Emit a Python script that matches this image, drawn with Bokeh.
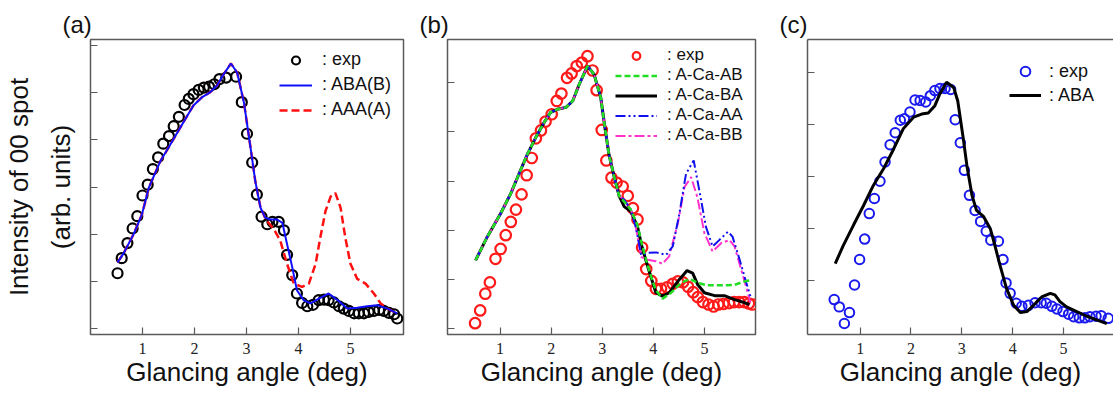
from bokeh.plotting import figure
from bokeh.layouts import row
from bokeh.models import Legend, LegendItem, FixedTicker, Range1d, LinearAxis
from bokeh.embed import file_html
from bokeh.resources import INLINE

# ---------------- data: panel (a) ----------------
a_exp_x = [0.52, 0.60, 0.71, 0.81, 0.90, 1.00, 1.10, 1.20, 1.30, 1.40, 1.51, 1.60, 1.70, 1.81,
           1.89, 1.98, 2.08, 2.18, 2.28, 2.38, 2.48, 2.61, 2.80, 2.91, 3.01, 3.11, 3.20, 3.29,
           3.40, 3.50, 3.62, 3.72, 3.78, 3.88, 3.97, 4.07, 4.17, 4.28, 4.39, 4.49, 4.58, 4.68,
           4.78, 4.87, 4.97, 5.07, 5.16, 5.26, 5.35, 5.45, 5.55, 5.64, 5.74, 5.84, 5.90]
a_exp_y = [1.17, 1.49, 1.81, 2.12, 2.38, 2.82, 3.05, 3.38, 3.63, 3.92, 4.08, 4.29, 4.49, 4.74,
           4.87, 4.97, 5.06, 5.11, 5.13, 5.18, 5.29, 5.32, 5.34, 4.80, 4.13, 3.52, 2.84, 2.37,
           2.21, 2.26, 2.26, 2.08, 1.56, 1.13, 0.74, 0.54, 0.47, 0.50, 0.60, 0.61, 0.60, 0.55,
           0.47, 0.42, 0.37, 0.32, 0.32, 0.32, 0.35, 0.37, 0.39, 0.37, 0.33, 0.30, 0.21]
a_aba_x = [0.52, 0.63, 0.83, 0.99, 1.12, 1.34, 1.53, 1.79, 1.98, 2.14, 2.30, 2.43, 2.56, 2.70,
           2.82, 2.95, 3.08, 3.17, 3.27, 3.36, 3.46, 3.59, 3.69, 3.78, 3.88, 3.97, 4.10, 4.23,
           4.39, 4.58, 4.75, 4.94, 5.13, 5.32, 5.52, 5.71, 5.90]
a_aba_y = [1.40, 1.58, 2.00, 2.42, 2.98, 3.54, 3.89, 4.38, 4.73, 4.90, 5.01, 5.15, 5.39, 5.62,
           5.43, 4.80, 3.82, 3.12, 2.56, 2.35, 2.31, 2.31, 2.24, 1.79, 1.30, 0.81, 0.60, 0.53,
           0.63, 0.74, 0.60, 0.42, 0.44, 0.47, 0.49, 0.42, 0.32]
a_aaa_x = [0.52, 0.63, 0.83, 0.99, 1.12, 1.34, 1.53, 1.79, 1.98, 2.14, 2.30, 2.43, 2.56, 2.70,
           2.82, 2.95, 3.08, 3.17, 3.27, 3.38, 3.53, 3.65, 3.78, 3.91, 4.07, 4.20, 4.33, 4.42,
           4.52, 4.62, 4.71, 4.81, 4.90, 5.00, 5.13, 5.29, 5.45, 5.58, 5.71, 5.90]
a_aaa_y = [1.40, 1.58, 2.00, 2.42, 2.98, 3.54, 3.89, 4.38, 4.73, 4.90, 5.01, 5.15, 5.39, 5.62,
           5.43, 4.80, 3.82, 3.12, 2.56, 2.30, 2.10, 1.86, 1.37, 0.95, 0.88, 0.95, 1.37, 1.93,
           2.49, 2.80, 2.87, 2.56, 1.93, 1.37, 1.05, 0.95, 0.74, 0.53, 0.42, 0.32]

# ---------------- data: panel (b) ----------------
b_exp_x = [0.51, 0.61, 0.71, 0.80, 0.91, 1.01, 1.11, 1.21, 1.31, 1.42, 1.52, 1.62, 1.70, 1.80,
           1.89, 2.01, 2.11, 2.20, 2.31, 2.40, 2.50, 2.60, 2.71, 2.81, 2.89, 2.99, 3.08, 3.18,
           3.28, 3.40, 3.50, 3.60, 3.69, 3.78, 3.86, 3.96, 4.05, 4.15, 4.27, 4.38, 4.48, 4.58,
           4.68, 4.78, 4.87, 4.97, 5.08, 5.18, 5.27, 5.37, 5.48, 5.58, 5.68, 5.78, 5.87, 5.94]
b_exp_y = [0.11, 0.37, 0.71, 0.94, 1.42, 1.62, 1.90, 2.17, 2.42, 2.73, 3.12, 3.47, 3.87, 4.03,
           4.21, 4.36, 4.63, 4.78, 5.10, 5.19, 5.34, 5.41, 5.54, 5.25, 4.85, 4.04, 3.42, 3.07,
           2.97, 2.89, 2.70, 2.45, 2.22, 1.65, 1.21, 0.97, 0.81, 0.81, 0.84, 0.91, 0.96, 0.94,
           0.85, 0.74, 0.64, 0.54, 0.49, 0.45, 0.49, 0.50, 0.52, 0.54, 0.54, 0.54, 0.51, 0.49]
b_common_x = [0.52, 0.75, 1.01, 1.21, 1.37, 1.54, 1.70, 1.86, 1.99, 2.12, 2.29, 2.42, 2.55,
              2.71, 2.84, 2.97, 3.05, 3.13, 3.23, 3.33]
b_common_y = [1.39, 1.87, 2.34, 2.75, 3.15, 3.56, 3.89, 4.19, 4.40, 4.46, 4.50, 4.63, 4.97,
              5.34, 5.17, 4.70, 4.10, 3.55, 3.10, 2.70]
b_ab_x = [3.43, 3.56, 3.69, 3.78, 3.89, 3.98, 4.05, 4.18, 4.35, 4.54, 4.71, 4.87, 5.06, 5.33,
          5.59, 5.78, 5.88]
b_ab_y = [2.58, 2.42, 2.10, 1.70, 1.28, 0.98, 0.78, 0.61, 0.73, 0.93, 1.01, 0.93, 0.88, 0.88,
          0.89, 0.96, 0.98]
b_ba_x = [3.43, 3.56, 3.69, 3.78, 3.89, 4.05, 4.18, 4.31, 4.48, 4.66, 4.77, 4.87, 5.00, 5.20,
          5.39, 5.59, 5.78, 5.88]
b_ba_y = [2.48, 2.38, 2.07, 1.65, 1.26, 0.73, 0.66, 0.73, 0.96, 1.18, 1.13, 0.89, 0.73, 0.67,
          0.67, 0.59, 0.53, 0.49]
b_aa_x = [3.43, 3.56, 3.66, 3.76, 3.89, 4.05, 4.25, 4.38, 4.51, 4.64, 4.79, 4.90, 5.03, 5.16,
          5.29, 5.46, 5.55, 5.69, 5.82, 5.90]
b_aa_y = [2.62, 2.42, 2.05, 1.50, 1.54, 1.55, 1.50, 1.67, 2.34, 3.15, 3.42, 2.81, 2.07, 1.67,
          1.80, 1.97, 1.87, 1.40, 0.93, 0.66]
b_bb_x = [3.43, 3.56, 3.66, 3.76, 3.89, 4.05, 4.18, 4.31, 4.48, 4.61, 4.74, 4.86, 5.00, 5.16,
          5.33, 5.49, 5.59, 5.72, 5.85, 5.90]
b_bb_y = [2.62, 2.42, 2.05, 1.46, 1.40, 1.37, 1.32, 1.47, 2.14, 2.88, 3.08, 2.68, 1.94, 1.57,
          1.74, 1.80, 1.67, 1.20, 0.73, 0.53]

# ---------------- data: panel (c) ----------------
c_exp_x = [0.49, 0.59, 0.69, 0.79, 0.89, 0.99, 1.09, 1.18, 1.28, 1.39, 1.49, 1.59, 1.69, 1.79,
           1.87, 1.98, 2.08, 2.18, 2.29, 2.38, 2.47, 2.57, 2.67, 2.78, 2.87, 2.97, 3.05, 3.15,
           3.26, 3.37, 3.48, 3.57, 3.72, 3.81, 3.87, 3.95, 4.07, 4.18, 4.31, 4.44, 4.56, 4.66,
           4.77, 4.87, 4.99, 5.10, 5.20, 5.31, 5.42, 5.52, 5.64, 5.74, 5.88]
c_exp_y = [0.64, 0.50, 0.18, 0.39, 0.92, 1.41, 1.80, 2.29, 2.58, 2.91, 3.28, 3.61, 3.84, 4.08,
           4.11, 4.24, 4.47, 4.46, 4.43, 4.55, 4.65, 4.69, 4.69, 4.67, 4.09, 3.65, 3.12, 2.64,
           2.35, 2.14, 1.95, 1.78, 1.76, 1.41, 0.96, 0.76, 0.57, 0.51, 0.53, 0.58, 0.58, 0.57,
           0.51, 0.46, 0.41, 0.36, 0.31, 0.29, 0.29, 0.31, 0.32, 0.33, 0.28]
c_aba_x = [0.51, 0.67, 0.87, 1.07, 1.26, 1.46, 1.66, 1.85, 2.05, 2.21, 2.34, 2.47, 2.57, 2.70,
           2.84, 2.92, 3.03, 3.10, 3.20, 3.29, 3.43, 3.56, 3.65, 3.75, 3.88, 4.02, 4.15, 4.28,
           4.41, 4.57, 4.74, 4.83, 4.93, 5.06, 5.26, 5.46, 5.65, 5.85]
c_aba_y = [1.33, 1.68, 2.07, 2.45, 2.83, 3.15, 3.53, 3.92, 4.14, 4.20, 4.22, 4.36, 4.59, 4.81,
           4.71, 4.45, 3.72, 3.21, 2.64, 2.35, 2.23, 2.00, 1.68, 1.30, 0.85, 0.53, 0.39, 0.41,
           0.53, 0.69, 0.76, 0.73, 0.60, 0.50, 0.41, 0.32, 0.25, 0.18]

x_ticks = [1, 2, 3, 4, 5]
panel_tags = ["(a)", "(b)", "(c)"]
x_title = "Glancing angle (deg)"
y_title = "Intensity of 00 spot\n(arb. units)"

FRAME = "#5a5a5a"
SANS = "Liberation Sans"
SERIF = "Liberation Serif"
H = 400


def make_fig(tag, width, xr, yr, bl, bt, br, bb, yticks):
    p = figure(title=tag, width=width, height=H, x_range=Range1d(*xr), y_range=Range1d(*yr),
               output_backend="svg", toolbar_location=None,
               min_border_left=bl, min_border_top=bt, min_border_right=br,
               min_border_bottom=bb)
    p.title.align = "left"
    p.title.offset = -28
    p.title.standoff = 4
    p.title.text_font = SANS
    p.title.text_font_size = "24px"
    p.title.text_font_style = "normal"
    p.title.text_color = "#111111"
    p.grid.visible = False
    p.background_fill_color = "white"
    p.border_fill_color = "white"
    p.outline_line_color = FRAME
    p.outline_line_width = 1.5
    for ax in (p.xaxis[0], p.yaxis[0]):
        ax.axis_line_color = None
        ax.major_tick_in = 7
        ax.major_tick_out = 0
        ax.minor_tick_line_color = None
        ax.major_tick_line_color = FRAME
        ax.major_tick_line_width = 1.2
    p.xaxis.ticker = FixedTicker(ticks=x_ticks)
    p.xaxis.major_label_text_font = SERIF
    p.xaxis.major_label_text_font_size = "16px"
    p.xaxis.major_label_text_color = "#222222"
    p.xaxis.major_label_standoff = 8
    p.xaxis.axis_label = x_title
    p.xaxis.axis_label_text_font = SANS
    p.xaxis.axis_label_text_font_size = "26px"
    p.xaxis.axis_label_text_font_style = "normal"
    p.xaxis.axis_label_text_color = "#111111"
    p.xaxis.axis_label_standoff = 0
    p.yaxis.ticker = FixedTicker(ticks=yticks)
    p.yaxis.major_label_overrides = {t: "" for t in yticks}
    p.yaxis.major_label_text_color = None
    p.yaxis.major_label_standoff = 0
    return p


def add_legend(p, items, vx, vy, gw, rh, gap, standoff, fs):
    leg = Legend(items=[LegendItem(label=t, renderers=[r]) for t, r in items],
                 location=(vx, vy), orientation="vertical",
                 background_fill_alpha=0, border_line_color=None,
                 padding=0, margin=0, spacing=gap,
                 glyph_width=gw, glyph_height=rh, label_height=rh,
                 label_standoff=standoff, label_text_font=SANS,
                 label_text_font_size=fs, label_text_color="#111111")
    p.add_layout(leg)


# ---------------- panel (a) ----------------
pa = make_fig(panel_tags[0], 413, (0.0, 6.02), (-0.13, 6.13), 90, 39, 10, 66,
              [0, 1, 2, 3, 4, 5, 6])
pa.yaxis.axis_label = y_title
pa.yaxis.axis_label_text_font = SANS
pa.yaxis.axis_label_text_font_size = "26px"
pa.yaxis.axis_label_text_font_style = "normal"
pa.yaxis.axis_label_text_color = "#111111"
pa.yaxis.axis_label_text_line_height = 1.4
pa.yaxis.axis_label_standoff = 15
ra_exp = pa.scatter(a_exp_x, a_exp_y, marker="circle", size=10, fill_color=None,
                    line_color="black", line_width=2.2)
ra_aaa = pa.line(a_aaa_x, a_aaa_y, line_color="#ff1010", line_width=2.5, line_dash="8 4")
ra_aba = pa.line(a_aba_x, a_aba_y, line_color="#1010ff", line_width=2)
add_legend(pa, [(": exp", ra_exp), (": ABA(B)", ra_aba), (": AAA(A)", ra_aaa)],
           189, 214, 33, 20, 4, 10, "18px")

# ---------------- panel (b) ----------------
pb = make_fig(panel_tags[1], 352, (-0.03, 6.0), (-0.12, 5.88), 34, 37, 10, 66,
              [0, 1, 2, 3, 4, 5])
rb_exp = pb.scatter(b_exp_x, b_exp_y, marker="circle", size=10.5, fill_color=None,
                    line_color="#ff1a1a", line_width=2.2)
rb_ba = pb.line(b_common_x + b_ba_x, b_common_y + b_ba_y, line_color="black", line_width=3)
rb_bb = pb.line(b_common_x + b_bb_x, b_common_y + b_bb_y, line_color="#ff33cc",
                line_width=2, line_dash="10 3 3 3")
rb_aa = pb.line(b_common_x + b_aa_x, b_common_y + b_aa_y, line_color="#1010ee",
                line_width=2, line_dash="10 3 2 3 2 3")
rb_ab = pb.line(b_common_x + b_ab_x, b_common_y + b_ab_y, line_color="#22dd22",
                line_width=2.5, line_dash="6 3")
add_legend(pb, [(": exp", rb_exp), (": A-Ca-AB", rb_ab), (": A-Ca-BA", rb_ba),
                (": A-Ca-AA", rb_aa), (": A-Ca-BB", rb_bb)],
           168, 189, 42, 19, 0, 10, "17px")

# ---------------- panel (c) ----------------
pc = make_fig(panel_tags[2], 348, (-0.035, 5.983), (-0.03, 5.63), 42, 39, 0, 65,
              [1, 2, 3, 4, 5])
pc.outline_line_color = None
pc.xaxis.axis_line_color = FRAME
pc.xaxis.axis_line_width = 1.5
pc.yaxis.axis_line_color = FRAME
pc.yaxis.axis_line_width = 1.5
top_axis = LinearAxis(ticker=FixedTicker(ticks=[]), major_label_text_color=None,
                      axis_line_color=FRAME, axis_line_width=1.5,
                      major_tick_line_color=None, minor_tick_line_color=None,
                      major_tick_out=0, major_tick_in=0, major_label_standoff=0)
pc.add_layout(top_axis, "above")
rc_exp = pc.scatter(c_exp_x, c_exp_y, marker="circle", size=9.5, fill_color=None,
                    line_color="#1a1aee", line_width=2)
rc_aba = pc.line(c_aba_x, c_aba_y, line_color="black", line_width=3)
add_legend(pc, [(": exp", rc_exp), (": ABA", rc_aba)], 202, 227, 32, 24, 0, 8, "18px")

layout = row(pa, pb, pc)
open("out.html", "w").write(file_html(layout, INLINE))
